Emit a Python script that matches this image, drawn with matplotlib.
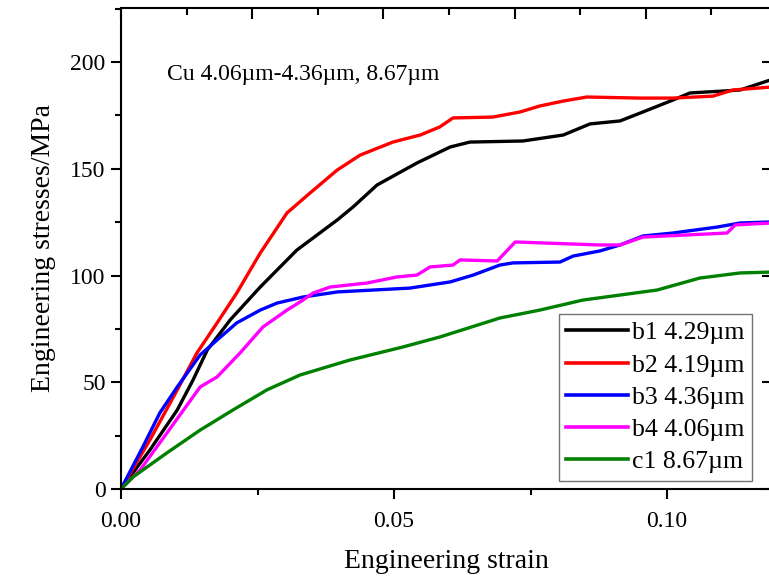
import matplotlib
matplotlib.use("Agg")
import matplotlib.pyplot as plt
from matplotlib.ticker import MultipleLocator

plt.rcParams['font.family'] = ['Liberation Serif', 'DejaVu Serif']

# strain / stress pairs
b1_strain = [0, 0.0053, 0.0103, 0.0132, 0.0158, 0.0200, 0.0255, 0.0322, 0.0396, 0.0425,
             0.0469, 0.0542, 0.0603, 0.0639, 0.0736, 0.0810, 0.0859, 0.0914, 0.0951,
             0.1011, 0.1042, 0.1103, 0.1134, 0.1192]
b1_stress = [0, 18.3, 37.0, 51.1, 65.1, 79.2, 94.6, 111.9, 126.0, 132.1,
             142.4, 152.7, 160.2, 162.5, 163.0, 165.8, 171.0, 172.4, 176.1,
             182.2, 185.5, 186.4, 186.9, 191.8]

b2_strain = [0, 0.0053, 0.0103, 0.0139, 0.0176, 0.0212, 0.0255, 0.0304, 0.0346, 0.0396,
             0.0438, 0.0498, 0.0548, 0.0584, 0.0608, 0.0681, 0.0731, 0.0767, 0.0810,
             0.0853, 0.0951, 0.1011, 0.1084, 0.1121, 0.1192]
b2_stress = [0, 23.0, 46.4, 63.7, 77.8, 91.8, 110.5, 129.3, 138.6, 149.4,
             156.4, 162.5, 165.8, 169.6, 173.8, 174.2, 176.6, 179.4, 181.7,
             183.6, 183.1, 183.1, 184.0, 186.9, 188.3]

b3_strain = [0, 0.0040, 0.0071, 0.0103, 0.0145, 0.0176, 0.0212, 0.0255, 0.0286, 0.0333,
             0.0396, 0.0529, 0.0603, 0.0645, 0.0694, 0.0718, 0.0804, 0.0828, 0.0877,
             0.0914, 0.0956, 0.1011, 0.1092, 0.1134, 0.1192]
b3_stress = [0, 19.7, 35.6, 47.8, 62.8, 69.8, 77.8, 83.8, 87.1, 89.9,
             92.3, 94.1, 97.0, 100.2, 104.9, 105.9, 106.3, 109.1, 111.5,
             114.3, 118.5, 119.9, 122.7, 124.6, 125.1]

b4_strain = [0, 0.0035, 0.0084, 0.0145, 0.0176, 0.0218, 0.0260, 0.0304, 0.0328, 0.0352,
             0.0383, 0.0451, 0.0505, 0.0542, 0.0566, 0.0608, 0.0621, 0.0689, 0.0722,
             0.0877, 0.0914, 0.0956, 0.1110, 0.1125, 0.1192]
b4_stress = [0, 8.9, 26.2, 47.8, 52.5, 63.7, 75.9, 83.8, 87.6, 91.8,
             94.6, 96.5, 99.3, 100.2, 104.0, 104.9, 107.3, 106.8, 115.7,
             114.3, 114.3, 118.0, 119.9, 123.7, 124.6]

c1_strain = [0, 0.0022, 0.0084, 0.0145, 0.0205, 0.0267, 0.0328, 0.0419, 0.0516, 0.0584,
             0.0694, 0.0767, 0.0846, 0.0982, 0.1060, 0.1134, 0.1192]
c1_stress = [0, 5.6, 16.9, 27.6, 37.0, 46.4, 53.4, 60.4, 66.5, 71.2,
             80.1, 83.8, 88.5, 93.2, 98.8, 101.2, 101.6]

labels = ['b1 4.29\u00b5m', 'b2 4.19\u00b5m', 'b3 4.36\u00b5m', 'b4 4.06\u00b5m', 'c1 8.67\u00b5m']
colors = ['black', 'red', 'blue', 'magenta', 'green']

fig = plt.figure(figsize=(7.69, 5.81), dpi=100)
W, H = 769, 581
# right spine sits just outside the picture, like the cropped original
ax = fig.add_axes([121 / W, (H - 489) / H, (772 - 121) / W, (489 - 8) / H])

series = [(b1_strain, b1_stress), (b2_strain, b2_stress), (b3_strain, b3_stress),
          (b4_strain, b4_stress), (c1_strain, c1_stress)]
for (xs, ys), lab, c in zip(series, labels, colors):
    ax.plot(xs, ys, color=c, lw=2.4, label=lab, solid_joinstyle='round')

ax.set_xlim(0, (772 - 121) / 5460)
ax.set_ylim(0, (489 - 8) / 2.135)
ax.xaxis.set_major_locator(MultipleLocator(0.05))
ax.xaxis.set_minor_locator(MultipleLocator(0.025))
ax.yaxis.set_major_locator(MultipleLocator(50))
ax.yaxis.set_minor_locator(MultipleLocator(25))
ax.xaxis.set_major_formatter(matplotlib.ticker.FormatStrFormatter('%.2f'))

for sp in ax.spines.values():
    sp.set_linewidth(1.5)
ax.tick_params(which='major', direction='out', length=7, width=1.5, labelsize=17,
               top=False, right=True)
ax.tick_params(which='minor', direction='out', length=4.5, width=1.5, top=False, right=False)
ax.tick_params(axis='x', pad=9)
ax.tick_params(axis='y', pad=4)
# right-hand marks point inward
for t in ax.yaxis.get_major_ticks():
    t.tick2line.set_marker(0)
    t.tick2line.set_markersize(7)

# top axis with its own tick spacing, no labels
ax2 = ax.twiny()
ax2.set_xlim(0, (772 - 121) / 131.2)
ax2.xaxis.set_major_locator(MultipleLocator(1))
ax2.xaxis.set_minor_locator(MultipleLocator(0.5))
ax2.tick_params(which='major', direction='in', length=8, width=1.5, labeltop=False)
ax2.tick_params(which='minor', direction='in', length=5, width=1.5)
for sp in ax2.spines.values():
    sp.set_visible(False)

ax.set_xlabel('Engineering strain', fontsize=20, labelpad=12)
ax.set_ylabel('Engineering stresses/MPa', fontsize=20, labelpad=10)

ax.text(0.0085, 194, 'Cu 4.06\u00b5m-4.36\u00b5m, 8.67\u00b5m', fontsize=17, va='center')

leg = ax.legend(loc='lower right', bbox_to_anchor=(752 / W, (H - 481) / H),
                bbox_transform=fig.transFigure, borderaxespad=0, fontsize=18.5,
                fancybox=False, framealpha=1, edgecolor='0.45', handlelength=2.4,
                handletextpad=0.15, labelspacing=0.36, borderpad=0.3)
leg.get_frame().set_linewidth(1.0)
for line in leg.get_lines():
    line.set_linewidth(2.6)

fig.savefig('out.png', dpi=100)
